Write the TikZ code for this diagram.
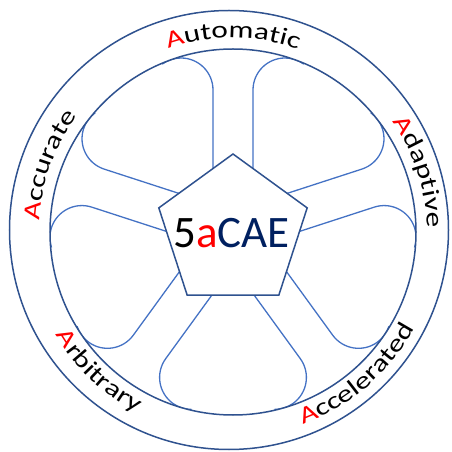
\documentclass[tikz,border=0pt]{standalone}
\usepackage{fontspec}
\usetikzlibrary{calc,decorations.text}
\newfontfamily\logofont{Carlito}
\newfontfamily\ringfont[FakeStretch=1.3]{Carlito}
\newcommand\ringtext{\ringfont\fontsize{24pt}{24pt}\selectfont}
\definecolor{ringblue}{RGB}{47,82,143}
\definecolor{spokeblue}{RGB}{68,114,196}
\definecolor{logonavy}{RGB}{0,32,96}
\definecolor{logored}{RGB}{255,0,0}
\begin{document}
\begin{tikzpicture}[x=1pt,y=1pt,
	ring/.style = {draw=ringblue, line width=1.5pt},
	spoke/.style = {draw=spokeblue, line width=1.3pt},
	outword/.style = {decorate, decoration={text along path, text align=center, text={#1}}},
	inword/.style = {decorate, decoration={text along path, text align=center, text={#1}}}]
	\useasboundingbox (-233,-220) rectangle (218,232);
	% both edges of every spoke, bending away into the rim
	\begin{scope}
		\clip (0,0) circle[radius=183pt];
		\foreach \a in {90,18,-54,-126,-198} {
			\draw[spoke] ($(\a:20)+(\a-90:20)$) -- ($(\a:142)+(\a-90:20)$)
				arc[start angle=\a+90, end angle=\a-36, radius=32pt];
			\draw[spoke] ($(\a:20)+(\a+90:20)$) -- ($(\a:142)+(\a+90:20)$)
				arc[start angle=\a-90, end angle=\a+36, radius=32pt];
		}
	\end{scope}
	\draw[ring] (0,0) circle[radius=183pt];
	\draw[ring] (-4,2) circle[radius=219.5pt];
	\draw[ring, fill=white] (90:78) -- (18:78) -- (-54:78) -- (-126:78) -- (162:78) -- cycle;
	\node[font=\logofont\fontsize{45pt}{45pt}\selectfont, inner sep=0] (logo) at (-1.5,-1)
		{\color{black}5\color{logored}a\color{logonavy}CAE};
	% names round the rim
	\path[outword={|\ringtext\color{logored}|A|\ringtext\color{black}|utomatic}]
		(135:194) arc[start angle=135, end angle=45, radius=194pt];
	\path[outword={|\ringtext\color{logored}|A|\ringtext\color{black}|daptive}]
		(63:194) arc[start angle=63, end angle=-27, radius=194pt];
	\path[outword={|\ringtext\color{logored}|A|\ringtext\color{black}|ccurate}]
		(205:194) arc[start angle=205, end angle=115, radius=194pt];
	\path[inword={|\ringtext\color{logored}|A|\ringtext\color{black}|ccelerated}]
		(-99:205) arc[start angle=-99, end angle=1, radius=205pt];
	\path[inword={|\ringtext\color{logored}|A|\ringtext\color{black}|rbitrary}]
		(-179:205) arc[start angle=-179, end angle=-89, radius=205pt];
\end{tikzpicture}
\end{document}
